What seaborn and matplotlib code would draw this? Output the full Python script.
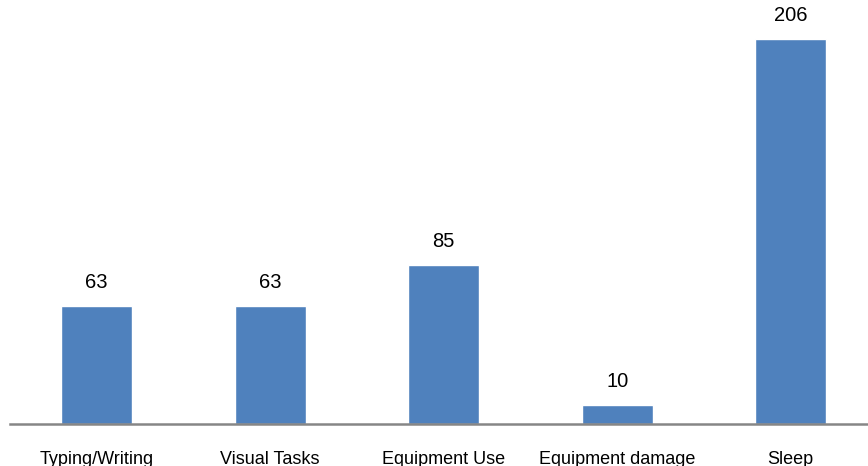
import matplotlib
matplotlib.use("Agg")
import matplotlib.pyplot as plt
import seaborn as sns
import pandas as pd

categories = ["Typing/Writing", "Visual Tasks", "Equipment Use", "Equipment damage", "Sleep"]
counts = [63, 63, 85, 10, 206]

df = pd.DataFrame({"category": categories, "count": counts})

sns.set_style("white")
plt.rcParams["font.family"] = ["Liberation Sans", "DejaVu Sans"]

fig = plt.figure(figsize=(8.68, 4.66), dpi=100)
# axes in pixel terms: baseline at y=424, about 1.87 px per unit
px_per_unit = 385 / 206
ymax = 225
ax = fig.add_axes([10 / 868, 42 / 466, 867.5 / 868, ymax * px_per_unit / 466])

sns.barplot(data=df, x="category", y="count", color="#4F81BD", saturation=1,
            width=0.41, ax=ax)

for p, v in zip(ax.patches, counts):
    ax.annotate(str(v), (p.get_x() + p.get_width() / 2, p.get_height()),
                xytext=(0, 10), textcoords="offset points",
                ha="center", va="bottom", fontsize=14.5, color="black")

ax.set_ylim(0, ymax)
ax.set_xlim(-0.5, 4.5)
ax.set_xlabel("")
ax.set_ylabel("")
ax.set_yticks([])
for s in ["top", "left", "right"]:
    ax.spines[s].set_visible(False)
ax.spines["bottom"].set_color("#868686")
ax.spines["bottom"].set_linewidth(1.8)
ax.tick_params(axis="x", length=0, pad=19.5, labelsize=13, labelcolor="black")

fig.savefig("out.png", dpi=100)
